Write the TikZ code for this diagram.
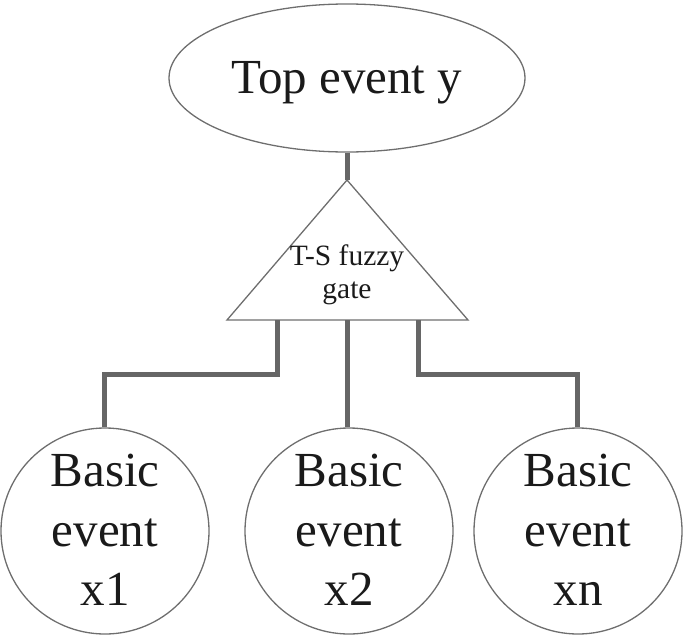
\documentclass[tikz,border=0pt]{standalone}
\usepackage{fontspec}
\setmainfont{Liberation Serif}
\usetikzlibrary{shapes.geometric}
\definecolor{edgegray}{HTML}{666666}
\definecolor{outlinegray}{HTML}{6E6E6E}
\definecolor{textcol}{HTML}{1A1A1A}
\begin{document}
\begin{tikzpicture}[x=1pt,y=-1pt,
  outline/.style={draw=outlinegray,line width=1.3pt},
  evt/.style={outline,ellipse,inner sep=0pt,minimum width=208pt,minimum height=206pt},
  bigtext/.style={font=\fontsize{49}{60}\selectfont,text=textcol,align=center,inner sep=0pt},
  gatetext/.style={font=\fontsize{29.5}{33}\selectfont,text=textcol,align=center,inner sep=0pt},
  conn/.style={draw=edgegray,line width=5pt}]
\useasboundingbox (0,0) rectangle (685,637);
% top event
\node[outline,ellipse,inner sep=0pt,minimum width=356pt,minimum height=148pt] (top) at (347,78) {};
\node[bigtext,anchor=base] (toplabel) at (347,93) {Top event y};
% gate
\coordinate (apex) at (347,180);
\coordinate (bl) at (227,320);
\coordinate (br) at (468,320);
\draw[outline,line join=miter] (apex) -- (bl) -- (br) -- cycle;
\node[gatetext,anchor=base] (gl1) at (347,265) {T-S fuzzy};
\node[gatetext,anchor=base] (gl2) at (347,298) {gate};
\coordinate (g1) at (277,320);
\coordinate (g2) at (347,320);
\coordinate (g3) at (418,320);
% basic events
\node[evt] (x1) at (105,531) {};
\node[evt] (x2) at (349,531) {};
\node[evt] (xn) at (578,531) {};
\foreach \n/\x/\t in {x1/105/x1,x2/349/x2,xn/578/xn}{
  \node[bigtext,anchor=base] (\n a) at (\x,486) {Basic};
  \node[bigtext,anchor=base] (\n b) at (\x,546) {event};
  \node[bigtext,anchor=base] (\n c) at (\x,605) {\t};
}
% connectors
\draw[conn] (top.south) -- (apex);
\draw[conn] (g1) -- ++(0,54) -| ([xshift=-1pt]x1.north);
\draw[conn] (g2) -- (g2 |- x2.north);
\draw[conn] (g3) -- ++(0,54) -| ([xshift=-1pt]xn.north);
\end{tikzpicture}
\end{document}
